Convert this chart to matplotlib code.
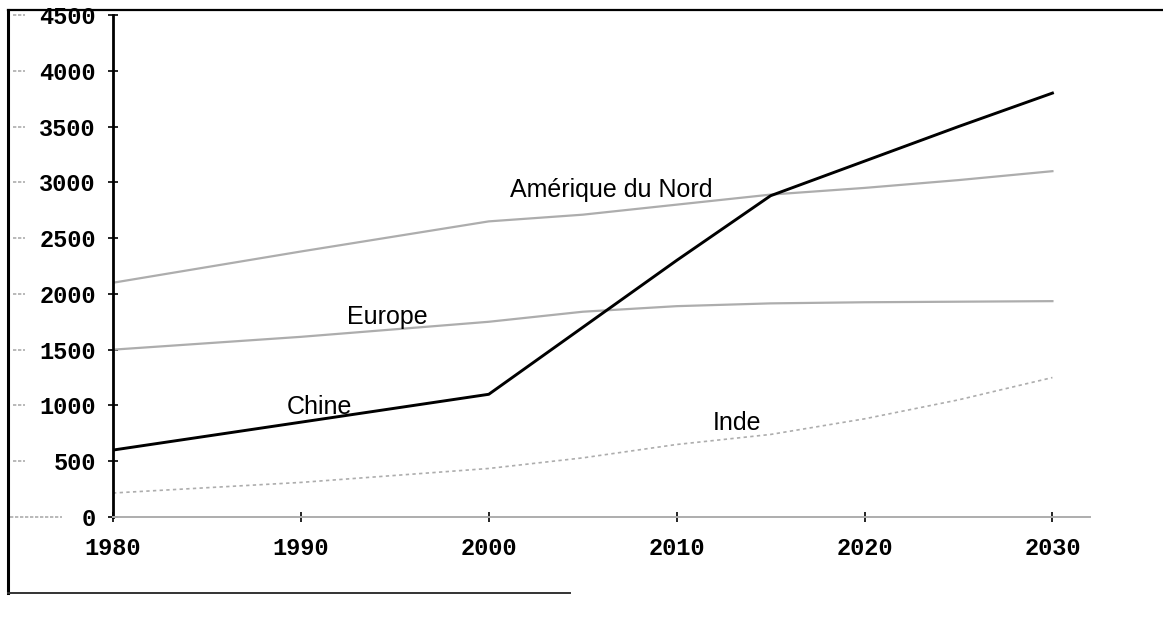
import matplotlib.pyplot as plt
from matplotlib.lines import Line2D
import matplotlib.transforms as mtransforms

# valeurs
annees = [1980, 1990, 2000, 2005, 2010, 2015, 2020, 2025, 2030]
chine = [600, 850, 1100, 1700, 2300, 2880, 3190, 3500, 3800]
amerique_nord = [2100, 2380, 2650, 2710, 2800, 2890, 2950, 3020, 3100]
europe = [1500, 1615, 1750, 1840, 1890, 1915, 1925, 1930, 1935]
inde = [215, 310, 435, 530, 650, 740, 880, 1050, 1250]

x_ticks = [1980, 1990, 2000, 2010, 2020, 2030]
y_ticks = [0, 500, 1000, 1500, 2000, 2500, 3000, 3500, 4000, 4500]

# etiquettes : (texte, x, y)
etiquettes = [
    ('Amérique du Nord', 2006.5, 2930),
    ('Europe', 1994.6, 1792),
    ('Chine', 1991.0, 986),
    ('Inde', 2013.2, 842),
]

fig = plt.figure(figsize=(11.63, 6.18), dpi=100)
ax = fig.add_axes([113 / 1163, 1 - 517 / 618, 977 / 1163, 502 / 618])

gris = '#adadad'
ax.plot(annees, amerique_nord, color=gris, lw=1.6)
ax.plot(annees, europe, color=gris, lw=1.6)
ax.plot(annees, inde, color=gris, lw=1.2, linestyle=(0, (2, 2)))
ax.plot(annees, chine, color='black', lw=2.1)

for txt, x, y in etiquettes:
    ax.text(x, y, txt, ha='center', va='center', fontsize=18,
            family='Liberation Sans', color='black')

ax.set_xlim(1980, 2032)
ax.set_ylim(0, 4500)
ax.set_xticks(x_ticks)
ax.set_yticks(y_ticks)

for s in ['top', 'right']:
    ax.spines[s].set_visible(False)
ax.spines['left'].set_linewidth(2)
ax.spines['bottom'].set_color(gris)
ax.spines['bottom'].set_linestyle((0, (2, 1)))
ax.spines['bottom'].set_linewidth(1.4)

ax.tick_params(axis='both', direction='inout', length=7, width=1.2, color='black')
ax.tick_params(axis='y', pad=9)
ax.tick_params(axis='x', pad=11)
for lab in ax.get_xticklabels() + ax.get_yticklabels():
    lab.set_family('Liberation Mono')
    lab.set_fontweight('bold')
    lab.set_fontsize(17)

# petits traits a gauche des etiquettes de l'axe y
trans = mtransforms.blended_transform_factory(fig.transFigure, ax.transData)
for v in y_ticks:
    if v == 0:
        x0, x1 = 10 / 1163, 62 / 1163
    else:
        x0, x1 = 13 / 1163, 25 / 1163
    fig.add_artist(Line2D([x0, x1], [v, v], transform=trans, color=gris,
                          lw=1.2, linestyle=(0, (2, 1))))

# cadre de la page scannee
fig.add_artist(Line2D([8 / 1163, 8 / 1163], [1 - 10 / 618, 1 - 593 / 618],
                      color='black', lw=2.2))
fig.add_artist(Line2D([8 / 1163, 1.0], [1 - 10 / 618, 1 - 10 / 618],
                      color='black', lw=1.6))
fig.add_artist(Line2D([8 / 1163, 570 / 1163], [1 - 593 / 618, 1 - 593 / 618],
                      color='#333333', lw=1.4))

fig.savefig('out.png', dpi=100)
